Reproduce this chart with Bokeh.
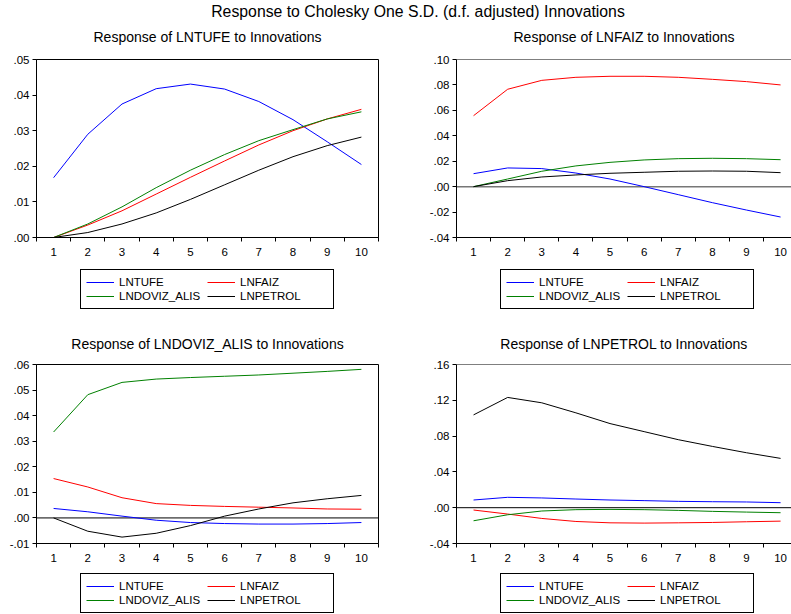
from bokeh.plotting import figure
from bokeh.layouts import column, row
from bokeh.models import FixedTicker, Span, Legend, LegendItem, Range1d
from bokeh.embed import file_html
from bokeh.resources import INLINE

periods = [1, 2, 3, 4, 5, 6, 7, 8, 9, 10]
series_names = ["LNTUFE", "LNFAIZ", "LNDOVIZ_ALIS", "LNPETROL"]
series_colors = ["#0000FF", "#FF0000", "#008000", "#000000"]

# Response of LNTUFE
tufe_tufe = [0.0168, 0.0290, 0.0375, 0.0418, 0.0431, 0.0417, 0.0382, 0.0331, 0.0269, 0.0205]
tufe_faiz = [0.0, 0.0035, 0.0075, 0.0122, 0.0169, 0.0215, 0.0260, 0.0300, 0.0333, 0.0360]
tufe_doviz = [0.0, 0.0038, 0.0086, 0.0140, 0.0189, 0.0233, 0.0272, 0.0303, 0.0333, 0.0353]
tufe_petrol = [0.0, 0.0014, 0.0038, 0.0069, 0.0107, 0.0148, 0.0189, 0.0227, 0.0258, 0.0282]

# Response of LNFAIZ
faiz_tufe = [0.0102, 0.0147, 0.0142, 0.0107, 0.0060, 0.0000, -0.0063, -0.0126, -0.0184, -0.0239]
faiz_faiz = [0.0558, 0.0766, 0.0836, 0.0860, 0.0868, 0.0868, 0.0860, 0.0844, 0.0826, 0.0800]
faiz_doviz = [0.0, 0.0060, 0.0121, 0.0163, 0.0191, 0.0210, 0.0220, 0.0223, 0.0220, 0.0212]
faiz_petrol = [0.0, 0.0047, 0.0076, 0.0092, 0.0105, 0.0113, 0.0121, 0.0123, 0.0121, 0.0110]

# Response of LNDOVIZ_ALIS
doviz_tufe = [0.0037, 0.0024, 0.0007, -0.0009, -0.0018, -0.0022, -0.0024, -0.0024, -0.0022, -0.0018]
doviz_faiz = [0.0154, 0.0121, 0.0079, 0.0056, 0.0049, 0.0045, 0.0042, 0.0039, 0.0035, 0.0034]
doviz_doviz = [0.0336, 0.0482, 0.0530, 0.0543, 0.0549, 0.0554, 0.0559, 0.0566, 0.0573, 0.0581]
doviz_petrol = [0.0, -0.0052, -0.0075, -0.0060, -0.0030, 0.0007, 0.0035, 0.0059, 0.0075, 0.0088]

# Response of LNPETROL
petrol_tufe = [0.0086, 0.0116, 0.0109, 0.0097, 0.0086, 0.0079, 0.0071, 0.0067, 0.0064, 0.0056]
petrol_faiz = [-0.0026, -0.0071, -0.0120, -0.0154, -0.0169, -0.0172, -0.0169, -0.0165, -0.0157, -0.0150]
petrol_doviz = [-0.0146, -0.0079, -0.0037, -0.0022, -0.0019, -0.0022, -0.0030, -0.0041, -0.0049, -0.0056]
petrol_petrol = [0.1037, 0.1232, 0.1172, 0.1060, 0.0940, 0.0850, 0.0760, 0.0685, 0.0614, 0.0551]

ticks_tufe = [0.0, 0.01, 0.02, 0.03, 0.04, 0.05]
ticks_faiz = [-0.04, -0.02, 0.0, 0.02, 0.04, 0.06, 0.08, 0.10]
ticks_doviz = [-0.01, 0.0, 0.01, 0.02, 0.03, 0.04, 0.05, 0.06]
ticks_petrol = [-0.04, 0.0, 0.04, 0.08, 0.12, 0.16]

main_title = "Response to Cholesky One S.D. (d.f. adjusted) Innovations"
panel_titles = ["Response of LNTUFE to Innovations", "Response of LNFAIZ to Innovations",
                "Response of LNDOVIZ_ALIS to Innovations", "Response of LNPETROL to Innovations"]

FONT = "Liberation Sans"
NAN = float("nan")


def fmt(v):
    s = "%.2f" % v
    if s.startswith("-0"):
        return "-" + s[2:]
    if s.startswith("0"):
        return s[1:]
    return s


def title_fig(text, width, height, bl, br, size, standoff=None):
    f = figure(width=width, height=height, output_backend="svg", toolbar_location=None,
               x_axis_location=None, y_axis_location=None,
               min_border_left=bl, min_border_right=br, min_border_top=0, min_border_bottom=0)
    f.title.text = text
    f.title.align = "center"
    f.title.text_font = FONT
    f.title.text_font_size = size
    f.title.text_font_style = "normal"
    f.title.text_color = "#000000"
    if standoff is not None:
        f.title.standoff = standoff
    f.outline_line_color = None
    f.grid.visible = False
    f.scatter([NAN], [NAN], alpha=0)
    return f


def panel(data, yticks, width, height, bl, br, bt, bb, xend, zero, right_side):
    p = figure(width=width, height=height, output_backend="svg", toolbar_location=None,
               x_range=Range1d(0.5, xend), y_range=Range1d(yticks[0], yticks[-1]),
               min_border_left=bl, min_border_right=br, min_border_top=bt, min_border_bottom=bb)
    p.grid.visible = False
    p.background_fill_color = "white"
    p.border_fill_color = "white"
    if right_side:
        p.outline_line_color = None
        p.add_layout(Span(location=yticks[-1], dimension="width", line_color="black", line_width=1))
    else:
        p.outline_line_color = "black"
        p.outline_line_width = 1
    for vals, c in zip(data, series_colors):
        p.line(periods, vals, line_color=c, line_width=1)
    if zero is not None:
        p.add_layout(Span(location=0, dimension="width", line_color=zero[0], line_width=zero[1], level="underlay"))
    # x axis
    xa = p.xaxis[0]
    xa.ticker = FixedTicker(ticks=periods, minor_ticks=[i + 0.5 for i in range(0, 11)])
    xa.major_tick_out = 0
    xa.major_tick_in = 0
    xa.minor_tick_out = 4
    xa.minor_tick_in = 0
    xa.minor_tick_line_color = "black"
    xa.axis_line_color = "black"
    xa.major_label_text_font = FONT
    xa.major_label_text_font_size = "11.5px"
    xa.major_label_text_color = "black"
    xa.major_label_standoff = 6
    # y axis
    ya = p.yaxis[0]
    ya.ticker = FixedTicker(ticks=yticks, minor_ticks=[])
    ya.major_label_overrides = {t: fmt(t) for t in yticks}
    ya.major_tick_out = 4
    ya.major_tick_in = 0
    ya.major_tick_line_color = "black"
    ya.axis_line_color = "black"
    ya.major_label_text_font = FONT
    ya.major_label_text_font_size = "11.5px"
    ya.major_label_text_color = "black"
    ya.major_label_standoff = 3
    return p


def legend_fig(data, width, height, loc):
    # the series are plotted outside the visible x range; only their legend swatches show
    f = figure(width=width, height=height, output_backend="svg", toolbar_location=None,
               x_range=Range1d(-20, -19), y_range=Range1d(0, 1),
               x_axis_location=None, y_axis_location=None,
               min_border_left=0, min_border_right=0, min_border_top=0, min_border_bottom=0)
    f.outline_line_color = None
    f.grid.visible = False
    rs = [f.line(periods, vals, line_color=c, line_width=1) for vals, c in zip(data, series_colors)]
    items = [LegendItem(label=n, renderers=[r]) for n, r in zip(series_names, rs)]
    leg = Legend(items=items, location=loc, orientation="horizontal", ncols=2,
                 label_text_font=FONT, label_text_font_size="11.5px", label_text_color="black",
                 glyph_width=28, glyph_height=14, label_height=14, label_width=88, label_standoff=5,
                 spacing=0, padding=5, margin=0,
                 border_line_color="black", border_line_width=1, border_line_alpha=1,
                 background_fill_color="white", background_fill_alpha=1)
    f.add_layout(leg)
    return f


d1 = [tufe_tufe, tufe_faiz, tufe_doviz, tufe_petrol]
d2 = [faiz_tufe, faiz_faiz, faiz_doviz, faiz_petrol]
d3 = [doviz_tufe, doviz_faiz, doviz_doviz, doviz_petrol]
d4 = [petrol_tufe, petrol_faiz, petrol_doviz, petrol_petrol]

header = title_fig(main_title, 791, 27, 44, 0, "15.8px", standoff=0)

t1 = title_fig(panel_titles[0], 395, 22, 36, 17, "14px")
t2 = title_fig(panel_titles[1], 396, 22, 61, 0, "14px")
t3 = title_fig(panel_titles[2], 395, 22, 36, 17, "14px")
t4 = title_fig(panel_titles[3], 396, 22, 61, 0, "14px")

p1 = panel(d1, ticks_tufe, 395, 216, 36, 17, 10, 28, 10.5, None, False)
p2 = panel(d2, ticks_faiz, 396, 216, 61, 0, 10, 28, 10.32, ("#777777", 1.5), True)
p3 = panel(d3, ticks_doviz, 395, 209, 36, 17, 8, 22, 10.5, ("black", 1), False)
p4 = panel(d4, ticks_petrol, 396, 209, 61, 0, 8, 22, 10.32, ("black", 1), True)

l1 = legend_fig(d1, 395, 69, (80, 25))
l2 = legend_fig(d2, 396, 69, (105, 25))
l3 = legend_fig(d3, 395, 49, (80, 1))
l4 = legend_fig(d4, 396, 49, (105, 1))

layout = column(header, row(t1, t2), row(p1, p2), row(l1, l2),
                row(t3, t4), row(p3, p4), row(l3, l4))
open("out.html", "w").write(file_html(layout, INLINE))
